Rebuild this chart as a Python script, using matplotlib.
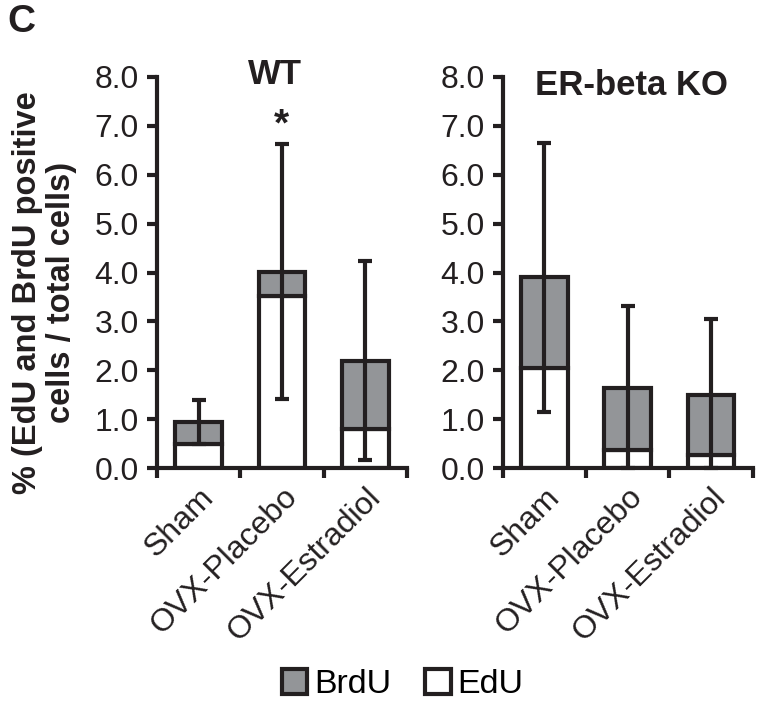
import matplotlib
matplotlib.use("Agg")
import matplotlib.pyplot as plt
from matplotlib.patches import Patch

plt.rcParams['font.family'] = ['Liberation Sans', 'DejaVu Sans']

INK = '#231f20'
GRAY = '#939598'

groups = ['Sham', 'OVX-Placebo', 'OVX-Estradiol']

# WT panel
wt_edu = [0.50, 3.52, 0.80]
wt_total = [0.95, 4.02, 2.20]
wt_err = [0.45, 2.60, 2.03]

# ER-beta KO panel
ko_edu = [2.05, 0.37, 0.27]
ko_total = [3.90, 1.63, 1.50]
ko_err = [2.75, 1.68, 1.55]

fig = plt.figure(figsize=(7.64, 7.06), dpi=100)
ax1 = fig.add_axes([0.2055, 0.337, 0.327, 0.554])
ax2 = fig.add_axes([0.658, 0.337, 0.327, 0.554])


def panel(ax, edu, total, err, title, title_x, title_y):
    x = [i + 0.5 for i in range(len(groups))]
    brdu = [t - e for t, e in zip(total, edu)]
    ax.bar(x, edu, width=0.56, color='white', edgecolor=INK, linewidth=3, zorder=2)
    ax.bar(x, brdu, bottom=edu, width=0.56, color=GRAY, edgecolor=INK, linewidth=3, zorder=2)
    lower = [min(e, t) for e, t in zip(err, total)]
    ax.errorbar(x, total, yerr=[lower, err], fmt='none', ecolor=INK,
                elinewidth=3, capsize=5, capthick=3, zorder=3, clip_on=False)

    ax.set_xlim(0, 3)
    ax.set_ylim(0, 8)
    ax.set_yticks([i for i in range(9)])
    ax.set_yticklabels(['%.1f' % v for v in range(9)], fontsize=23, color=INK)
    ax.set_xticks([0, 1, 2, 3])
    ax.set_xticklabels([])
    ax.set_xticks(x, minor=True)
    ax.set_xticklabels(groups, minor=True, rotation=45, ha='right',
                       rotation_mode='anchor', fontsize=23, color=INK)
    ax.tick_params(axis='x', which='minor', length=0, pad=10)
    ax.tick_params(axis='both', which='major', length=7, width=3, color=INK)
    ax.tick_params(axis='y', pad=6)
    for s in ['top', 'right']:
        ax.spines[s].set_visible(False)
    for s in ['left', 'bottom']:
        ax.spines[s].set_linewidth(3)
        ax.spines[s].set_color(INK)
    ax.text(title_x, title_y, title, ha='center', va='center', fontsize=25,
            fontweight='bold', color=INK)


panel(ax1, wt_edu, wt_total, wt_err, 'WT', 1.42, 8.05)
panel(ax2, ko_edu, ko_total, ko_err, 'ER-beta KO', 1.55, 7.82)

ax1.text(1.5, 7.0, '*', ha='center', va='center',
         fontsize=28, fontweight='bold', color=INK)

fig.text(0.058, 0.586, '% (EdU and BrdU positive\ncells / total cells)', fontsize=23.5,
         fontweight='bold', color=INK, rotation=90, ha='center', va='center',
         linespacing=1.12, multialignment='center')

fig.text(0.009, 0.969, 'C', fontsize=28, fontweight='bold', color=INK,
         ha='left', va='center')

handles = [Patch(facecolor=GRAY, edgecolor=INK, linewidth=3, label='BrdU'),
           Patch(facecolor='white', edgecolor=INK, linewidth=3, label='EdU')]
fig.legend(handles=handles, loc='center', bbox_to_anchor=(0.527, 0.03), ncol=2,
           frameon=False, fontsize=24.5, handlelength=0.75, handleheight=0.75,
           handletextpad=0.2, columnspacing=1.0)

fig.savefig('out.png', dpi=100)
